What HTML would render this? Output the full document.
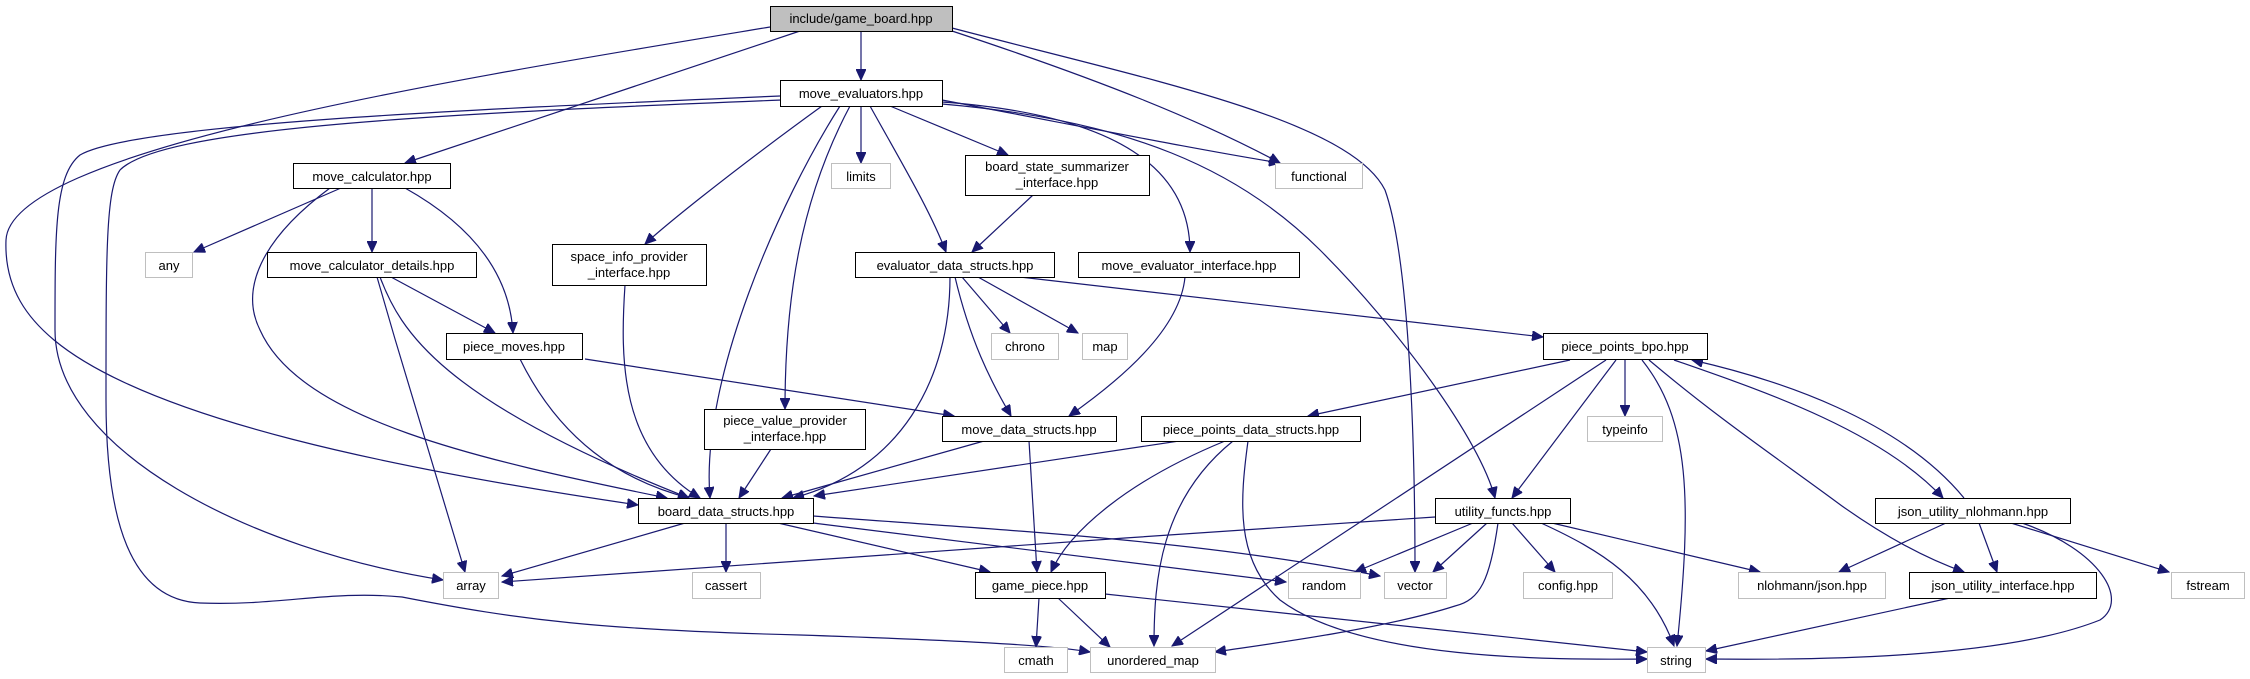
<!DOCTYPE html>
<html><head><meta charset="utf-8"><style>
html,body{margin:0;padding:0;background:#fff;}
svg{display:block;}
text{font-family:"Liberation Sans",Helvetica,sans-serif;font-size:13px;fill:#000;text-anchor:middle;}
.e{fill:none;stroke:#191970;stroke-width:1.2;marker-end:url(#a);}
.n{fill:#fff;stroke:#000;stroke-width:1;}
.x{fill:#fff;stroke:#bfbfbf;stroke-width:1;}
</style></head><body>
<svg width="2250" height="679" viewBox="0 0 2250 679" xmlns="http://www.w3.org/2000/svg">
<defs><marker id="a" markerUnits="userSpaceOnUse" markerWidth="12" markerHeight="10" refX="11" refY="5" orient="auto"><path d="M0,0 L11,5 L0,10 z" fill="#191970" stroke="#191970"/></marker></defs>

<path class="e" d="M861,31 L861,80"/>
<path class="e" d="M800,31 L405,163"/>
<path class="e" d="M770,27 C450,80 10,150 6,240 C4,290 30,320 54,340 C150,420 400,470 638,505"/>
<path class="e" d="M952,31 C1100,80 1200,120 1280,163"/>
<path class="e" d="M952,28 C1150,80 1350,120 1385,190 C1410,260 1415,450 1415,572"/>
<path class="e" d="M780,96 C450,110 130,125 80,155 C55,175 55,230 55,330 C55,450 250,550 443,580"/>
<path class="e" d="M782,100 C400,115 160,130 120,170 C106,190 106,250 106,400 C106,520 130,600 200,603 C280,606 330,590 402,597 C520,620 600,630 800,635 C950,640 1050,645 1090,652"/>
<path class="e" d="M822,106 C720,180 660,230 645,244"/>
<path class="e" d="M840,106 C780,200 700,380 710,498"/>
<path class="e" d="M850,106 C800,200 785,300 785,409"/>
<path class="e" d="M861,106 L861,163"/>
<path class="e" d="M870,106 C900,160 930,210 946,252"/>
<path class="e" d="M890,106 L1008,155"/>
<path class="e" d="M942,100 C1100,130 1200,150 1280,163"/>
<path class="e" d="M942,102 C1120,115 1190,170 1190,252"/>
<path class="e" d="M942,104 C1130,120 1240,170 1320,250 C1400,330 1480,440 1495,498"/>
<path class="e" d="M1033,195 L972,252"/>
<path class="e" d="M341,188 L194,252"/>
<path class="e" d="M372,188 L372,252"/>
<path class="e" d="M405,188 C480,230 510,280 513,333"/>
<path class="e" d="M330,188 C260,240 240,290 260,330 C300,420 480,460 667,498"/>
<path class="e" d="M391,277 L495,333"/>
<path class="e" d="M377,277 L395,339 L465,572"/>
<path class="e" d="M380,277 C400,330 440,400 689,498"/>
<path class="e" d="M625,285 C620,360 620,450 700,498"/>
<path class="e" d="M520,359 C560,440 620,480 689,498"/>
<path class="e" d="M771,449 L739,498"/>
<path class="e" d="M984,441 L782,498"/>
<path class="e" d="M950,277 C950,380 900,470 793,498"/>
<path class="e" d="M1179,441 L814,496"/>
<path class="e" d="M585,359 L954,416"/>
<path class="e" d="M962,277 L1010,333"/>
<path class="e" d="M978,277 L1078,333"/>
<path class="e" d="M955,277 C970,340 990,380 1011,416"/>
<path class="e" d="M1020,277 L1543,337"/>
<path class="e" d="M1185,277 C1180,330 1120,380 1069,416"/>
<path class="e" d="M1029,441 L1037,572"/>
<path class="e" d="M1225,441 C1130,480 1070,530 1051,572"/>
<path class="e" d="M1233,441 C1160,500 1154,580 1154,646"/>
<path class="e" d="M1248,441 C1240,500 1235,560 1280,600 C1360,660 1550,660 1647,659"/>
<path class="e" d="M685,523 L502,576"/>
<path class="e" d="M726,523 L726,572"/>
<path class="e" d="M778,523 L990,572"/>
<path class="e" d="M813,516 C1000,530 1200,540 1380,576"/>
<path class="e" d="M813,523 L1286,582"/>
<path class="e" d="M1435,517 L1125,538 L502,582"/>
<path class="e" d="M1039,598 L1036,647"/>
<path class="e" d="M1058,598 L1110,647"/>
<path class="e" d="M1105,594 L1647,652"/>
<path class="e" d="M1570,360 L1308,416"/>
<path class="e" d="M1606,360 L1172,646"/>
<path class="e" d="M1616,360 L1512,498"/>
<path class="e" d="M1625,360 L1625,416"/>
<path class="e" d="M1642,360 C1690,420 1692,500 1677,646"/>
<path class="e" d="M1649,360 C1720,420 1780,460 1842,506 C1890,540 1930,560 1964,572"/>
<path class="e" d="M1674,360 C1760,390 1880,430 1943,498"/>
<path class="e" d="M1964,498 C1900,420 1780,380 1692,360"/>
<path class="e" d="M1473,523 L1355,572"/>
<path class="e" d="M1487,523 L1433,572"/>
<path class="e" d="M1498,523 C1490,580 1480,600 1455,606 C1380,630 1260,645 1215,652"/>
<path class="e" d="M1512,523 L1555,572"/>
<path class="e" d="M1541,523 C1600,550 1650,580 1674,646"/>
<path class="e" d="M1552,523 L1760,572"/>
<path class="e" d="M1946,523 L1839,572"/>
<path class="e" d="M1979,523 L1997,572"/>
<path class="e" d="M2011,523 L2169,572"/>
<path class="e" d="M2022,523 C2100,550 2130,600 2100,620 C2000,660 1800,660 1706,659"/>
<path class="e" d="M1950,598 L1706,651"/>

<rect x="770.5" y="6.5" width="182" height="25" fill="#bfbfbf" stroke="#000"/><text x="861" y="23">include/game_board.hpp</text>
<rect class="n" x="780.5" y="80.5" width="162" height="26"/><text x="861" y="98">move_evaluators.hpp</text>
<rect class="n" x="293.5" y="163.5" width="157" height="25"/><text x="372" y="181">move_calculator.hpp</text>
<rect class="x" x="831.5" y="163.5" width="59" height="25"/><text x="861" y="181">limits</text>
<rect class="n" x="965.5" y="155.5" width="184" height="40"/><text x="1057" y="171">board_state_summarizer</text><text x="1057" y="187">_interface.hpp</text>
<rect class="x" x="1275.5" y="163.5" width="87" height="25"/><text x="1319" y="181">functional</text>
<rect class="x" x="145.5" y="252.5" width="47" height="25"/><text x="169" y="270">any</text>
<rect class="n" x="267.5" y="252.5" width="209" height="25"/><text x="372" y="270">move_calculator_details.hpp</text>
<rect class="n" x="552.5" y="244.5" width="154" height="41"/><text x="629" y="261">space_info_provider</text><text x="629" y="277">_interface.hpp</text>
<rect class="n" x="855.5" y="252.5" width="199" height="25"/><text x="955" y="270">evaluator_data_structs.hpp</text>
<rect class="n" x="1078.5" y="252.5" width="221" height="25"/><text x="1189" y="270">move_evaluator_interface.hpp</text>
<rect class="n" x="446.5" y="333.5" width="136" height="26"/><text x="514" y="351">piece_moves.hpp</text>
<rect class="x" x="991.5" y="333.5" width="67" height="26"/><text x="1025" y="351">chrono</text>
<rect class="x" x="1082.5" y="333.5" width="45" height="26"/><text x="1105" y="351">map</text>
<rect class="n" x="1543.5" y="333.5" width="164" height="26"/><text x="1625" y="351">piece_points_bpo.hpp</text>
<rect class="n" x="704.5" y="409.5" width="161" height="40"/><text x="785" y="425">piece_value_provider</text><text x="785" y="441">_interface.hpp</text>
<rect class="n" x="942.5" y="416.5" width="174" height="25"/><text x="1029" y="434">move_data_structs.hpp</text>
<rect class="n" x="1141.5" y="416.5" width="219" height="25"/><text x="1251" y="434">piece_points_data_structs.hpp</text>
<rect class="x" x="1587.5" y="416.5" width="75" height="25"/><text x="1625" y="434">typeinfo</text>
<rect class="n" x="638.5" y="498.5" width="175" height="25"/><text x="726" y="516">board_data_structs.hpp</text>
<rect class="n" x="1435.5" y="498.5" width="135" height="25"/><text x="1503" y="516">utility_functs.hpp</text>
<rect class="n" x="1875.5" y="498.5" width="195" height="25"/><text x="1973" y="516">json_utility_nlohmann.hpp</text>
<rect class="x" x="443.5" y="572.5" width="55" height="26"/><text x="471" y="590">array</text>
<rect class="x" x="692.5" y="572.5" width="68" height="26"/><text x="726" y="590">cassert</text>
<rect class="n" x="975.5" y="572.5" width="130" height="26"/><text x="1040" y="590">game_piece.hpp</text>
<rect class="x" x="1288.5" y="572.5" width="72" height="26"/><text x="1324" y="590">random</text>
<rect class="x" x="1384.5" y="572.5" width="62" height="26"/><text x="1415" y="590">vector</text>
<rect class="x" x="1523.5" y="572.5" width="89" height="26"/><text x="1568" y="590">config.hpp</text>
<rect class="x" x="1738.5" y="572.5" width="147" height="26"/><text x="1812" y="590">nlohmann/json.hpp</text>
<rect class="n" x="1909.5" y="572.5" width="187" height="26"/><text x="2003" y="590">json_utility_interface.hpp</text>
<rect class="x" x="2171.5" y="572.5" width="73" height="26"/><text x="2208" y="590">fstream</text>
<rect class="x" x="1004.5" y="647.5" width="63" height="25"/><text x="1036" y="665">cmath</text>
<rect class="x" x="1090.5" y="647.5" width="125" height="25"/><text x="1153" y="665">unordered_map</text>
<rect class="x" x="1647.5" y="647.5" width="58" height="25"/><text x="1676" y="665">string</text>
</svg>
</body></html>
